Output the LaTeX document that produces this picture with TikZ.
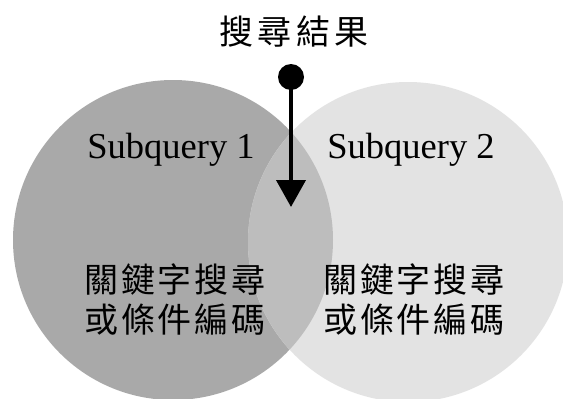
\documentclass[tikz,border=0pt]{standalone}
\usepackage{fontspec}
\setmainfont{Liberation Serif}
\newfontfamily\cjk{Noto Sans CJK TC}
\usetikzlibrary{arrows.meta}
\definecolor{leftgray}{HTML}{A9A9A9}
\definecolor{rightgray}{HTML}{E3E3E3}
\definecolor{overgray}{HTML}{BDBDBD}
\begin{document}
\begin{tikzpicture}[x=1pt,y=-1pt,
  latin/.style={font=\fontsize{36.5}{40}\selectfont, inner sep=0pt, anchor=base},
  cjkline/.style={font=\cjk\addfontfeatures{LetterSpace=8}\fontsize{34}{40}\selectfont, inner sep=0pt, anchor=base},
  titlestyle/.style={font=\cjk\addfontfeatures{LetterSpace=12}\fontsize{34}{40}\selectfont, inner sep=0pt, anchor=base},
]
\useasboundingbox (0,0) rectangle (563,399);
\fill[white] (0,0) rectangle (563,399);
\begin{scope}
  \clip (0,0) rectangle (563,399);
  \fill[leftgray] (173,240) circle[radius=160pt];
  \fill[rightgray] (408,242) circle[radius=160pt];
  \begin{scope}
    \clip (173,240) circle[radius=160pt];
    \fill[overgray] (408,242) circle[radius=160pt];
  \end{scope}
\end{scope}

\node[titlestyle] (title) at (294,44) {搜尋結果};

\node[latin] (s1) at (171,158) {Subquery 1};
\node[latin] (s2) at (411,158) {Subquery 2};

\node[cjkline] (l1a) at (175,292) {關鍵字搜尋};
\node[cjkline] (l1b) at (175,332) {或條件編碼};
\node[cjkline] (l2a) at (414,292) {關鍵字搜尋};
\node[cjkline] (l2b) at (414,332) {或條件編碼};

\node[circle, fill=black, minimum size=26pt, inner sep=0pt] (dot) at (291,77) {};
\coordinate (tip) at (291,207);
\draw[line width=4pt, -{Triangle[width=29pt,length=27pt]}] (dot.center) -- (tip);
\end{tikzpicture}
\end{document}
